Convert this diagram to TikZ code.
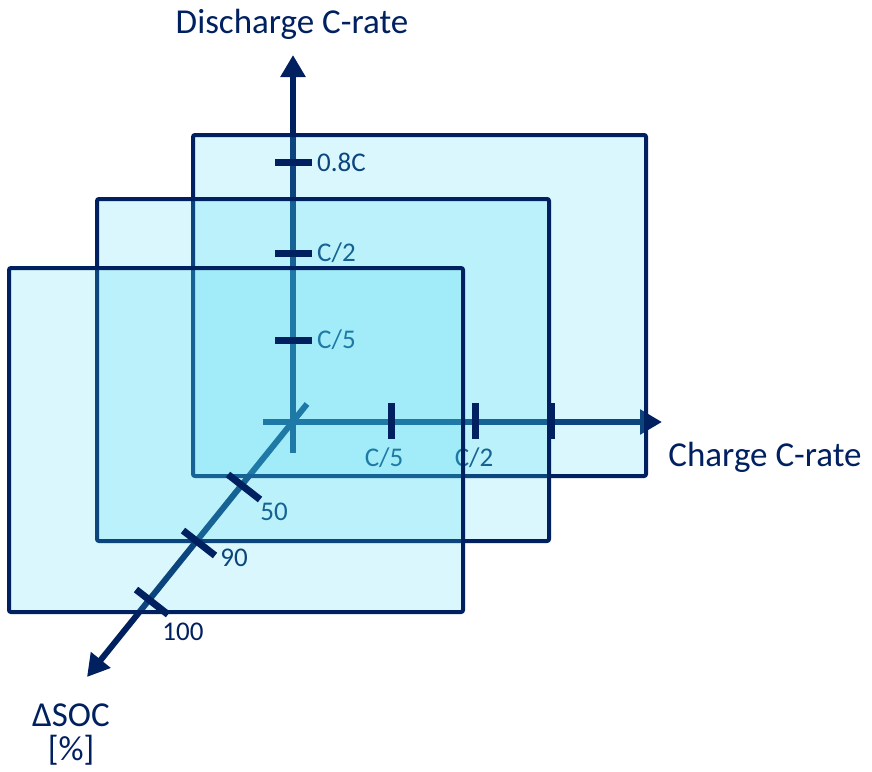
\documentclass[tikz,border=0pt]{standalone}
\usepackage{fontspec}
\setmainfont{Carlito}
\usetikzlibrary{arrows.meta}
\definecolor{navy}{RGB}{0,32,96}
\definecolor{aqua}{RGB}{63,217,241}

\begin{document}
\begin{tikzpicture}[x=1pt, y=-1pt, >={Triangle[length=22pt,width=24pt]},
  axis/.style={line width=6pt, navy},
  tickmark/.style={line width=7pt, navy},
  plane/.style={draw=navy, line width=4pt, fill=aqua, fill opacity=0.2, rounded corners=2pt},
  ticklbl/.style={text=navy, font=\fontsize{27}{30}\selectfont, inner sep=0pt},
  axislbl/.style={text=navy, font=\fontsize{35}{34}\selectfont, inner sep=0pt, align=center}]
\useasboundingbox (0,0) rectangle (872,771);

% 1. axes
\coordinate (O) at (293,422);
\coordinate (vbot) at (293,453);
\coordinate (vtop) at (293,55);
\coordinate (hleft) at (263,422);
\coordinate (hright) at (662,422);
\coordinate (dtop) at (307,404);
\coordinate (dtip) at (87,677);
\draw[axis, ->] (vbot) -- (vtop);
\draw[axis, ->] (hleft) -- (hright);
\draw[axis, ->] (dtop) -- (dtip);

% 2. tick labels (under the planes)
\node[ticklbl, anchor=west] (dis08) at (317,162) {0.8C};
\node[ticklbl, anchor=west] (dis2) at (317,253) {C/2};
\node[ticklbl, anchor=west] (dis5) at (317,340) {C/5};
\node[ticklbl] (chg5) at (384,458) {C/5};
\node[ticklbl] (chg2) at (474,458) {C/2};
\node[ticklbl] (soc50) at (274,512) {50};
\node[ticklbl] (soc90) at (234,558) {90};
\node[ticklbl] (soc100) at (183,632) {100};

% 3. planes, back to front
\draw[plane] (193,135) rectangle (646,476);
\draw[plane] (97,199) rectangle (549,541);
\draw[plane] (9,268) rectangle (463,612);

% 4. tick marks
\foreach \y in {162,253,340} \draw[tickmark] (275,\y) -- (312,\y);
\foreach \x in {391,475,551} \draw[tickmark] (\x,403) -- (\x,439);
\foreach \x/\y in {244/487,199/543,152/602}
  \draw[tickmark] (\x-16,\y-12.5) -- (\x+16,\y+12.5);

% 5. axis titles
\node[axislbl] (dis) at (292,24) {Discharge C-rate};
\node[axislbl] (chg) at (765,457) {Charge C-rate};
\node[axislbl] (soc) at (71,735) {ΔSOC\\{[\%]}};
\end{tikzpicture}
\end{document}
